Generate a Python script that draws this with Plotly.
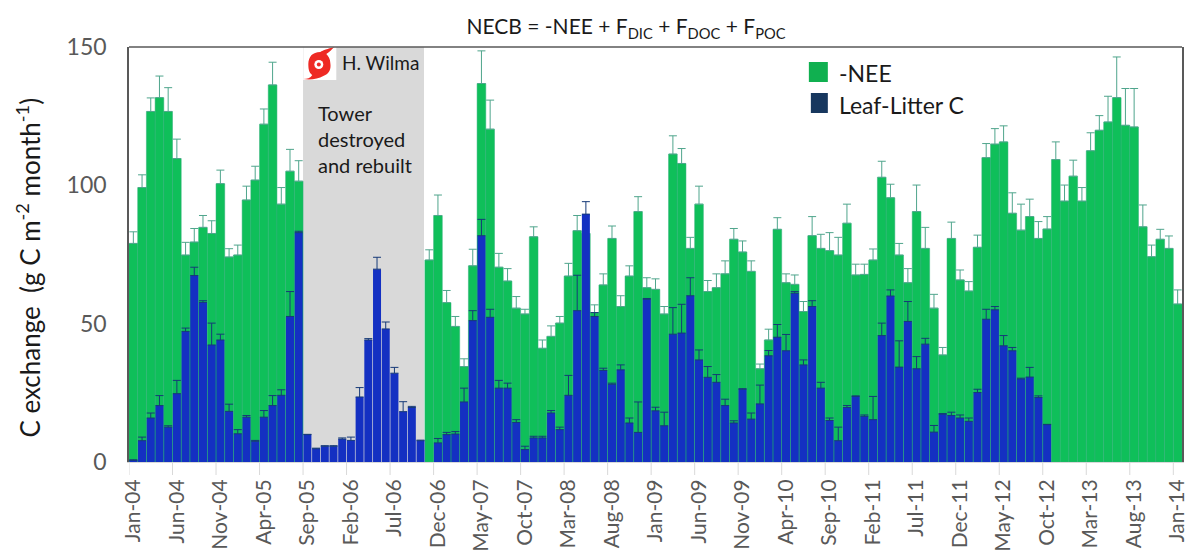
import pandas as pd
import plotly.graph_objects as go

months = pd.date_range("2004-01-01", "2014-01-01", freq="MS").strftime("%b-%y").tolist()
tick_labels = months[::5]

nee = [79,99.2,126.7,131.7,126.7,109.7,74.8,79.5,84.8,82.6,100.6,74.1,74.8,94.7,101.9,122.1,136.3,93.2,105.1,101.5,
       None,None,None,None,None,None,None,None,None,None,None,None,None,None,
       73,89.1,57.6,49,34.5,70.9,136.8,120.3,70.4,65.4,55.6,53.5,81.4,41.1,45.4,50.2,67.2,83.6,82.6,54,64,80.8,56.2,67.2,90.5,63,
       62.4,53.5,111.3,107.9,77.2,93.2,61.6,63,68,80.5,75.9,68.9,33.7,44.1,84.1,64.8,64.2,54.4,81.8,77.2,76.4,74.8,86.3,67.6,67.8,73,102.9,95.5,74.8,64.8,
       90.5,77.2,55.6,38.7,80.8,65.8,61.8,77.6,110,114.9,115.7,89.9,83.8,88.7,80.8,84.2,109.3,94.3,103.3,94.3,112.5,119.9,122.9,131.7,121.7,121.1,85,74.2,80.5,77.2,57.1]
nee_top = [83.2,103.8,131.6,139.5,135.3,116.7,79.4,84.4,89.1,87.2,105.5,77.1,78.4,99.7,106.9,127.6,144.5,99.2,113,108.9,
       None,None,None,None,None,None,None,None,None,None,None,None,None,None,
       76.7,96.5,62,52.6,37.3,76.9,148.6,130.8,75.4,69.9,59.8,55.2,85,44.1,49.2,52.6,71.8,89.1,89,56.8,68,85.3,60.1,70.9,95.9,66.6,
       66.2,56.2,117.9,113.3,81.2,99.7,65.6,68,72.7,84.4,79.9,72.7,35.4,48,88.3,68,67.6,58,88.7,82.3,82.9,81.2,93.2,71.5,71.5,77,108.7,100.4,79,69.9,
       100.1,84.8,60.6,41.4,86.7,69.4,65.2,82,115.1,120.5,121.5,97.3,93.2,95,86.9,88.7,115.7,100.1,109.1,99.2,119,125.2,132.2,146.4,135,135,92.9,78.4,84.1,81.7,62.2]
litter = [0.6,7.7,15.9,20.4,12.6,24.7,47.2,67.4,57.7,42.3,44.1,18.3,10.2,16.2,7.5,16.2,20.4,24.1,52.6,82.9,
       9.9,4.8,5.7,5.7,8.3,7.8,23.5,44.1,69.7,48.1,32.1,18.2,19.7,7.7,None,
       6.9,9.9,10.1,21.7,51.1,81.8,52.3,26.7,26.7,14.3,4.5,8.7,8.7,17.7,11.7,24.1,54.7,89.6,52.6,33.1,28.1,33.3,14.1,10.7,58.8,
       18.5,13.1,46.2,46.6,60.1,36.9,30.6,28.8,20.4,14.1,26.3,15.5,21,38.4,45.1,40.2,61,35.1,56.2,26.7,15,7.7,19.7,23.7,16.5,15.3,45.7,60,34.3,50.8,
       33.7,42.6,10.8,17.3,16.8,15.9,14.7,25.1,51.6,55,42,40.2,30,30.7,23.3,13.5]
litter_top = [0.8,9,17.7,24,13.1,29.5,48.4,70.4,58.3,50.2,46.2,20.9,11.7,16.8,7.8,18.6,24,26.1,61.6,83.4,
       10,5,5.9,5.9,8.7,9,26.9,44.6,74,50.6,34.2,21.8,20.1,7.9,None,
       8.5,10.7,11,26.7,54.7,87.7,55.2,29.5,28.5,15.3,5.7,9.3,9.3,18.6,12.6,31.3,67.5,94.1,54,33.9,28.5,35.1,15.9,21.7,59.1,
       19.8,18,55.8,57,66.6,40.5,34.5,31.6,22.7,14.9,26.5,17.7,27.8,40.3,49.7,46.1,61.6,36.9,58.3,28.8,15.9,12.6,20.4,23.9,17,23.7,50.2,62.2,43.8,58,
       38.1,44.7,13.2,17.5,18,17,15.9,26.3,55.2,56.2,45.7,41.4,30.3,34.2,23.9,13.6]
litter = litter + [None] * (len(months) - len(litter))
litter_top = litter_top + [None] * (len(months) - len(litter_top))

GREEN, BLUE = "#0FBF5A", "#1430C2"
L, R, T, B = 128.5, 1182.5, 47, 462
def px(x): return (x - L) / (R - L)
def py(y): return (B - y) / (B - T)
def diff(a, b): return [None if p is None else q - p for p, q in zip(a, b)]

fig = go.Figure()
fig.add_bar(x=months, y=nee, name="-NEE", width=1,
            marker=dict(color=GREEN, line=dict(color="#2FAE78", width=0.5)),
            error_y=dict(type="data", symmetric=False, array=diff(nee, nee_top), arrayminus=[0]*len(nee),
                         color="#4FA58C", thickness=1, width=4))
fig.add_bar(x=months, y=litter, name="Leaf-Litter C", width=0.92,
            marker=dict(color=BLUE, line=dict(width=0)),
            error_y=dict(type="data", symmetric=False, array=diff(litter, litter_top), arrayminus=[0]*len(litter),
                         color="#163A78", thickness=1, width=4))

def pth(s):
    out, toks = [], s.split()
    i = 0
    while i < len(toks):
        t = toks[i]
        if t.isalpha():
            out.append(t); i += 1
        else:
            out.append(f"{px(float(t)):.5f},{py(float(toks[i+1])):.5f}"); i += 2
    return " ".join(out)

def rect(x0, y0, x1, y1, color, layer="above"):
    return dict(type="rect", xref="paper", yref="paper", x0=px(x0), x1=px(x1), y0=py(y1), y1=py(y0),
                fillcolor=color, line_width=0, layer=layer)

shapes = [
    dict(type="rect", xref="x", yref="paper", x0=19.5, x1=33.4, y0=0, y1=1,
         fillcolor="#D9D9D9", line_width=0, layer="below"),
    rect(303, 47, 336, 80, "white"),
    dict(type="path", xref="paper", yref="paper", fillcolor="#EE2A24", line_width=0, layer="above",
         path=pth("M 334 47 C 327 49 323 50 320 52 C 312 52 308 57 308 64 C 308 70 309 73 312 75 "
                  "C 310 78 307 79 303 79 C 310 80 318 79 323 76 C 329 74 331 69 330 63 "
                  "C 330 59 328 56 326 54 C 329 52 331 50 334 47 Z")),
    dict(type="circle", xref="paper", yref="paper", x0=px(314), x1=px(323), y0=py(69), y1=py(60),
         fillcolor="white", line_width=0, layer="above"),
    dict(type="circle", xref="paper", yref="paper", x0=px(316.5), x1=px(320.5), y0=py(66.5), y1=py(62.5),
         fillcolor="#EE2A24", line_width=0, layer="above"),
    dict(type="line", xref="paper", yref="paper", x0=0, x1=1, y0=1, y1=1, line=dict(color="#595959", width=1.5)),
    rect(809, 62, 828, 82, "#10B050"),
    rect(811, 93, 828, 113, "#17375E"),
]
# tick marks sit on the category boundaries, labels on the category centres
for lab in tick_labels:
    k = months.index(lab) - 0.5
    shapes.append(dict(type="line", xref="x", yref="paper", x0=k, x1=k, y0=0, y1=-13 / (B - T),
                       line=dict(color="#D9D9D9", width=1)))

FONT = "Lato"
def note(x, y, text, size, color="#1A1A1A", angle=0, align="left", xanchor="left"):
    return dict(xref="paper", yref="paper", x=px(x), y=py(y), text=text, showarrow=False, textangle=angle,
                font=dict(family=FONT, size=size, color=color), align=align, xanchor=xanchor, yanchor="middle")

annotations = [
    note(340, 63, "H. Wilma", 19),
    note(316, 139, "Tower<br>destroyed<br>and rebuilt", 20),
    note(837, 73, "-NEE", 23),
    note(837, 105, "Leaf-Litter C", 23),
    note(27, 268, "C exchange  (g C m<sup>-2</sup> month<sup>-1</sup>)", 26, angle=-90, xanchor="center"),
]

fig.update_layout(
    width=1187, height=554, autosize=False, barmode="overlay", showlegend=False,
    margin=dict(l=L, r=1187 - R, t=T, b=554 - B, pad=0, autoexpand=False),
    paper_bgcolor="white", plot_bgcolor="white", font=dict(family=FONT, color="#595959"),
    title=dict(text="NECB = -NEE + F<sub>DIC</sub> + F<sub>DOC</sub> + F<sub>POC</sub>",
               x=626 / 1187, y=1 - 27 / 554, xanchor="center", yanchor="middle",
               font=dict(family=FONT, size=21, color="#1A1A1A")),
    shapes=shapes, annotations=annotations,
    xaxis=dict(type="category", categoryorder="array", categoryarray=months, range=[-0.5, 120.5],
               tickmode="array", tickvals=tick_labels, ticktext=tick_labels,
               tickangle=-90, ticks="", ticklabelstandoff=8,
               tickfont=dict(family=FONT, size=21, color="#595959"),
               showline=True, linecolor="#D9D9D9", showgrid=False, zeroline=False),
    yaxis=dict(range=[0, 150], tickvals=[0, 50, 100, 150], ticks="", showgrid=False, zeroline=False,
               ticklabelstandoff=16,
               tickfont=dict(family=FONT, size=23, color="#595959"),
               showline=True, mirror=True, linecolor="#595959", linewidth=1.5),
)
fig.write_html("out.html", config={"displayModeBar": False}, post_script="document.body.style.margin='0';")
